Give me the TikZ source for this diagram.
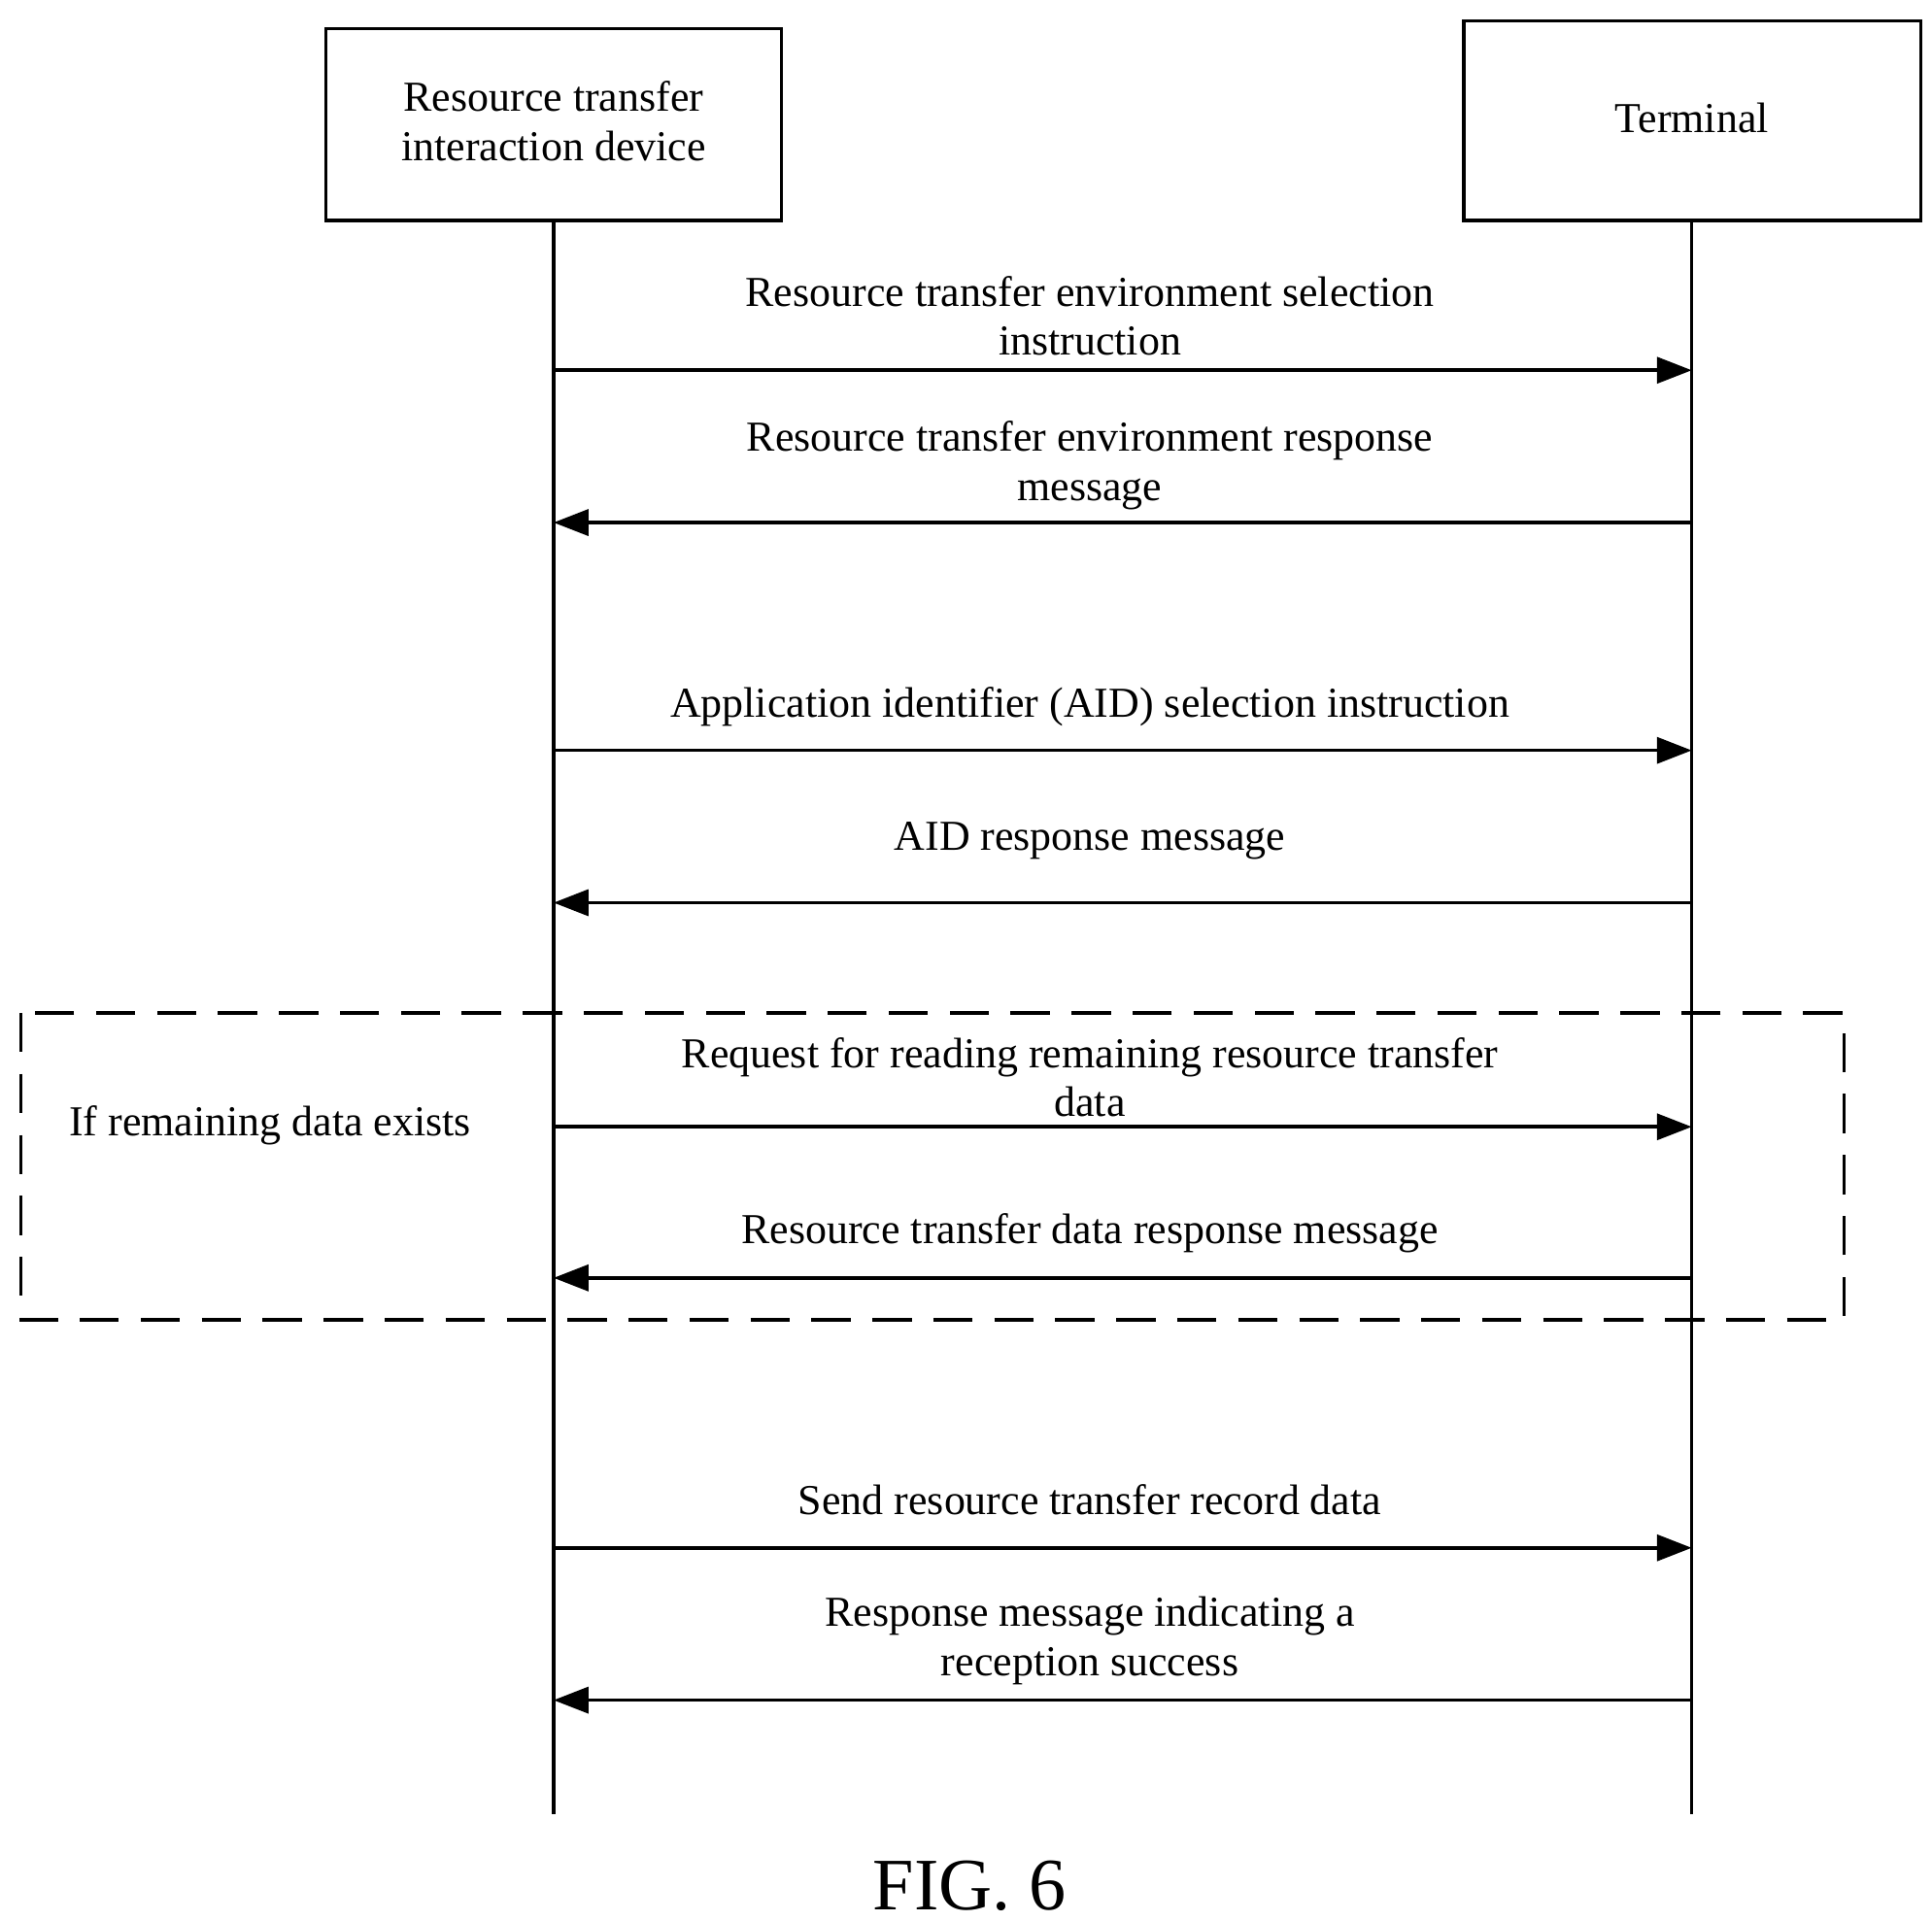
\documentclass[tikz,border=0pt]{standalone}
\usepackage{fontspec}
\setmainfont{Liberation Serif}
\usetikzlibrary{arrows.meta}
\begin{document}
\begin{tikzpicture}[x=0.01cm, y=-0.01cm,
entity/.style={draw, line width=0.8pt, inner sep=0pt},
msg/.style={line width=0.8pt, -{Triangle[length=8pt, width=6pt]}},
lbl/.style={align=center, font=\fontsize{9.8}{11.3}\selectfont},
]
\useasboundingbox (0,0) rectangle (1560,1551);
% participants
\draw[entity] (263,23) rectangle (631,178);
\draw[entity] (1182,17) rectangle (1551,178);
\node[lbl] (dev) at (447,98) {Resource transfer\\interaction device};
\node[lbl] (term) at (1366,95) {Terminal};
% lifelines
\coordinate (devtop) at (447,178);
\coordinate (devbot) at (447,1465);
\coordinate (termtop) at (1366,178);
\coordinate (termbot) at (1366,1465);
\draw[line width=0.8pt] (devtop) -- (devbot);
\draw[line width=0.8pt] (termtop) -- (termbot);
% messages
\foreach \y/\dir/\txt/\ly in {
  299/r/{Resource transfer environment selection\\instruction}/255,
  422/l/{Resource transfer environment response\\message}/376,
  606/r/{Application identifier (AID) selection instruction}/571,
  729/l/{AID response message}/679,
  910/r/{Request for reading remaining resource transfer\\data}/870,
  1032/l/{Resource transfer data response message}/996,
  1250/r/{Send resource transfer record data}/1211,
  1373/l/{Response message indicating a\\reception success}/1325} {
  \coordinate (a) at (447,\y);
  \coordinate (b) at (1366,\y);
  \if r\dir \draw[msg] (a) -- (b); \else \draw[msg] (b) -- (a); \fi
  \node[lbl] at (880,\ly) {\txt};
}
% optional fragment
\draw[line width=0.8pt, dash pattern=on 9pt off 5pt] (17,818) rectangle (1489,1066);
\node[lbl] (cond) at (218,909) {If remaining data exists};
\node[font=\fontsize{17}{20}\selectfont] (fig) at (783,1523) {FIG. 6};
\end{tikzpicture}
\end{document}
